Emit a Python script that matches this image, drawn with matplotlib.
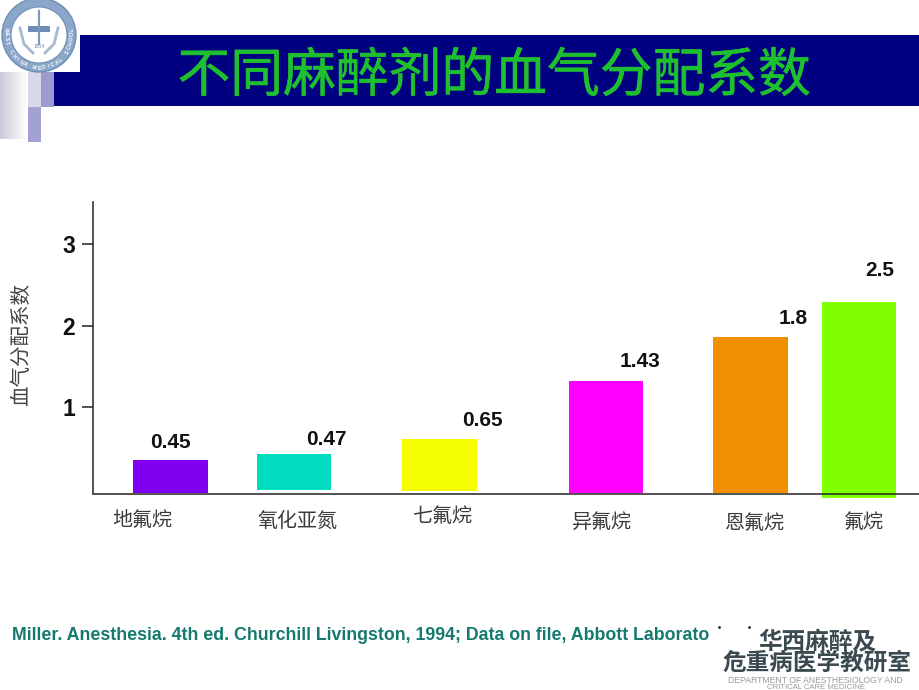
import numpy as np
import matplotlib
matplotlib.use('Agg')
import matplotlib.pyplot as plt
import matplotlib.patheffects as pe
from matplotlib.patches import Rectangle, Circle

plt.rcParams['font.family'] = ['Noto Sans CJK SC', 'DejaVu Sans']

# data
categories = ['地氟烷', '氧化亚氮', '七氟烷', '异氟烷', '恩氟烷', '氟烷']
value_labels = ['0.45', '0.47', '0.65', '1.43', '1.8', '2.5']
# drawn bar ends do not agree with the printed numbers, so both are kept
bar_tops = [0.35, 0.43, 0.61, 1.32, 1.86, 2.29]
bar_bottoms = [-0.055, -0.02, -0.03, -0.055, -0.055, -0.115]
y_ticks = [1, 2, 3]

# layout, in pixels of the slide
bar_x = [170.5, 294, 439.5, 606, 750.5, 859]
bar_colors = ['#7f00ee', '#00dcc0', '#f5ff00', '#ff00ff', '#f09000', '#80ff00']
label_dx = [0, 32, 43, 34, 43, 21]
label_dy = [18, 14, 18, 19, 18, 31]
cat_x = [142.5, 297, 442.5, 601.5, 754.5, 864]
cat_y = [520.5, 521.5, 516.5, 522.5, 523.5, 522.5]

fig = plt.figure(figsize=(9.2, 6.9), dpi=100)

# slide background, coordinates are pixels
bg = fig.add_axes([0, 0, 1, 1])
bg.axis('off')

bg.add_patch(Rectangle((80, 35), 840, 71, color='#000080', lw=0))
bg.add_patch(Rectangle((54, 72), 26, 34, color='#000080', lw=0))
fade = np.linspace([0.79, 0.79, 0.86], [1, 1, 1], 64).reshape(1, 64, 3)
bg.imshow(fade, extent=(0, 27, 139, 72), aspect='auto')
bg.set_xlim(0, 920)
bg.set_ylim(690, 0)
bg.add_patch(Rectangle((28, 72), 13, 35, color='#d8d8e8', lw=0))
bg.add_patch(Rectangle((41, 72), 13, 35, color='#9c9ccc', lw=0))
bg.add_patch(Rectangle((28, 107), 13, 35, color='#a2a2d2', lw=0))

# school seal
bg.add_patch(Circle((39, 35), 37, fc='#8aa6c8', ec='#6f8fb8', lw=1))
bg.add_patch(Circle((39, 35), 28, fc='white', ec='#7090b8', lw=0.8))
bg.plot([39, 39], [11, 44], color='#7f97ba', lw=1.6)
bg.add_patch(Rectangle((28, 26), 22, 6, color='#6f8cb4', lw=0))
bg.plot([20, 24, 33], [28, 44, 53], color='#a8b8d0', lw=2)
bg.plot([58, 54, 45], [28, 44, 53], color='#a8b8d0', lw=2)
bg.text(39, 47, '1914', fontsize=3.6, color='#6f8cb4', ha='center', va='center', family='Liberation Sans')
seal_text = 'WEST CHINA MEDICAL SCHOOL'
for i, ch in enumerate(seal_text):
    a = 190 - i * 200 / (len(seal_text) - 1)
    bg.text(39 + 33 * np.cos(np.deg2rad(a)), 35 + 33 * np.sin(np.deg2rad(a)), ch, fontsize=3.8, color='white',
            ha='center', va='center', fontweight='bold', rotation=90 - a, family='Liberation Sans')

title = bg.text(494, 76, '不同麻醉剂的血气分配系数', fontsize=38, color='#1fc02f',
                ha='center', va='center')
title.set_path_effects([pe.withStroke(linewidth=0.4, foreground='#1fc02f')])

bg.text(12, 635, 'Miller. Anesthesia. 4th ed. Churchill Livingston, 1994; Data on file, Abbott Laborato',
        fontsize=12.8, color='#157a6e', ha='left', va='center', fontweight='bold',
        family='Liberation Sans')
bg.plot([719, 749], [627, 627], ls='none', marker='.', ms=2, color='#222222')

# department mark
bg.text(817, 641, '华西麻醉及', fontsize=17, color='#3a4a50', ha='center', va='center', fontweight='bold')
bg.text(817, 663, '危重病医学教研室', fontsize=17, color='#3a4a50', ha='center', va='center', fontweight='bold')
bg.text(815, 680.5, 'DEPARTMENT OF ANESTHESIOLOGY AND', fontsize=6.2, color='#9a9a9a', ha='center', va='center',
        family='Liberation Sans')
bg.text(816, 687.5, 'CRITICAL CARE MEDICINE', fontsize=5.6, color='#9a9a9a', ha='center', va='center',
        family='Liberation Sans')

# the chart itself
ax = fig.add_axes([93 / 920, (690 - 493.5) / 690, 827 / 920, 291.5 / 690])
ax.patch.set_alpha(0)
ax.set_xlim(93, 920)
ax.set_ylim(-0.06, 3.515)

heights = [t - b for t, b in zip(bar_tops, bar_bottoms)]
bars = ax.bar(bar_x, heights, bottom=bar_bottoms, width=74.5, color=bar_colors, clip_on=False, zorder=1)

for x, top, lab, dx, dy in zip(bar_x, bar_tops, value_labels, label_dx, label_dy):
    ax.annotate(lab, xy=(x, top), xytext=(dx, dy), textcoords='offset pixels', ha='center', va='center',
                fontsize=15, fontweight='bold', color='#111111', family='Liberation Sans')

for name, x, y in zip(categories, cat_x, cat_y):
    bg.text(x, y, name, fontsize=14.4, color='#3c3c3c', ha='center', va='center')

ax.spines['top'].set_visible(False)
ax.spines['right'].set_visible(False)
ax.spines['left'].set_linewidth(1.1)
ax.spines['bottom'].set_linewidth(1.1)
ax.spines['left'].set_color('#222222')
ax.spines['bottom'].set_color('#222222')
ax.set_xticks([])
ax.set_yticks(y_ticks)
ax.tick_params(axis='y', length=8, width=1.1, color='#222222', pad=5)
for t in ax.get_yticklabels():
    t.set_fontsize(16.5)
    t.set_fontweight('bold')
    t.set_family('Liberation Sans')
    t.set_color('#111111')

bg.text(21, 344, '血气分配系数', fontsize=14.8, color='#444444', rotation=90, ha='center', va='center')

fig.savefig('out.png', dpi=100)
